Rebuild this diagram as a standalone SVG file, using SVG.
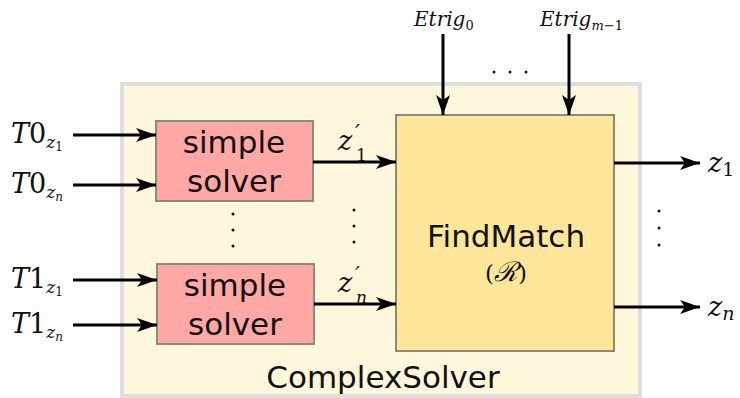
<svg xmlns="http://www.w3.org/2000/svg" width="740" height="398" viewBox="0 0 740 398">
<style>
.box{stroke:#8c8a78;stroke-width:2}
.lbl{font-family:"DejaVu Sans",sans-serif;font-size:31px;fill:#111;text-anchor:middle}
.m{font-family:"DejaVu Serif",serif;font-style:italic;fill:#111}
.r{font-style:normal}
.w{stroke:#000;stroke-width:3;fill:none}
.dot{fill:#111}
</style>
<defs>
<marker id="ah" viewBox="0 0 20 14" refX="20" refY="7" markerWidth="20" markerHeight="14" markerUnits="userSpaceOnUse" orient="auto">
<path d="M0,0 L20,7 L0,14 L5,7 Z" fill="#000"/>
</marker>
</defs>
<g id="complexsolver">
<rect x="122" y="84" width="518" height="312" fill="#fff7dc" stroke="#dedede" stroke-width="4"/>
<text class="lbl" x="383" y="388" font-size="29">ComplexSolver</text>
</g>
<g id="solver1">
<rect class="box" x="156" y="121" width="157" height="80" fill="#ffa8a5"/>
<text class="lbl" x="234" y="153">simple</text>
<text class="lbl" x="234" y="192">solver</text>
</g>
<g id="solver2">
<rect class="box" x="157" y="264" width="157" height="80" fill="#ffa8a5"/>
<text class="lbl" x="235" y="296">simple</text>
<text class="lbl" x="235" y="335">solver</text>
</g>
<g id="findmatch">
<rect class="box" x="396" y="115" width="218" height="236" fill="#ffe69b"/>
<text class="lbl" x="506" y="247">FindMatch</text>
<text class="m" x="506" y="281" font-size="23" text-anchor="middle"><tspan class="r">(</tspan><tspan font-size="27">ℛ</tspan><tspan class="r">)</tspan></text>
</g>
<g id="connectors">
<line class="w" x1="73" y1="135" x2="156" y2="135" marker-end="url(#ah)"/>
<line class="w" x1="73" y1="185" x2="156" y2="185" marker-end="url(#ah)"/>
<line class="w" x1="73" y1="280" x2="157" y2="280" marker-end="url(#ah)"/>
<line class="w" x1="73" y1="325" x2="157" y2="325" marker-end="url(#ah)"/>
<line class="w" x1="313" y1="162" x2="396" y2="162" marker-end="url(#ah)"/>
<line class="w" x1="314" y1="304" x2="396" y2="304" marker-end="url(#ah)"/>
<line class="w" x1="443" y1="34" x2="443" y2="115" marker-end="url(#ah)"/>
<line class="w" x1="569" y1="34" x2="569" y2="115" marker-end="url(#ah)"/>
<line class="w" x1="614" y1="163" x2="700" y2="163" marker-end="url(#ah)"/>
<line class="w" x1="614" y1="307" x2="700" y2="307" marker-end="url(#ah)"/>
</g>
<g id="labels">
<text class="m" x="11" y="143" font-size="27">T<tspan class="r">0</tspan><tspan font-size="17" dy="5">z</tspan><tspan class="r" font-size="12" dy="3">1</tspan></text>
<text class="m" x="11" y="193" font-size="27">T<tspan class="r">0</tspan><tspan font-size="17" dy="5">z</tspan><tspan font-size="12" dy="3">n</tspan></text>
<text class="m" x="11" y="288" font-size="27">T<tspan class="r">1</tspan><tspan font-size="17" dy="5">z</tspan><tspan class="r" font-size="12" dy="3">1</tspan></text>
<text class="m" x="11" y="333" font-size="27">T<tspan class="r">1</tspan><tspan font-size="17" dy="5">z</tspan><tspan font-size="12" dy="3">n</tspan></text>
<text class="m" x="338" y="150" font-size="27">z</text>
<text class="m" x="355" y="140" font-size="22">′</text>
<text class="m r" x="356" y="161" font-size="17">1</text>
<text class="m" x="338" y="292" font-size="27">z</text>
<text class="m" x="355" y="282" font-size="22">′</text>
<text class="m" x="356" y="303" font-size="17">n</text>
<text class="m" x="414" y="26" font-size="20">Etrig<tspan class="r" font-size="13" dy="4">0</tspan></text>
<text class="m" x="540" y="26" font-size="20">Etrig<tspan font-size="13" dy="4">m<tspan class="r">−1</tspan></tspan></text>
<text class="m" x="708" y="172" font-size="27">z<tspan class="r" font-size="19" dy="4">1</tspan></text>
<text class="m" x="708" y="316" font-size="27">z<tspan font-size="19" dy="4">n</tspan></text>
</g>
<g id="dots">
<circle class="dot" cx="233" cy="214" r="1.5"/><circle class="dot" cx="233" cy="230" r="1.5"/><circle class="dot" cx="233" cy="246" r="1.5"/>
<circle class="dot" cx="354" cy="210" r="1.5"/><circle class="dot" cx="354" cy="226" r="1.5"/><circle class="dot" cx="354" cy="242" r="1.5"/>
<circle class="dot" cx="659" cy="211" r="1.5"/><circle class="dot" cx="659" cy="228" r="1.5"/><circle class="dot" cx="659" cy="245" r="1.5"/>
<circle class="dot" cx="494" cy="72" r="1.5"/><circle class="dot" cx="510" cy="72" r="1.5"/><circle class="dot" cx="526" cy="72" r="1.5"/>
</g>
</svg>
